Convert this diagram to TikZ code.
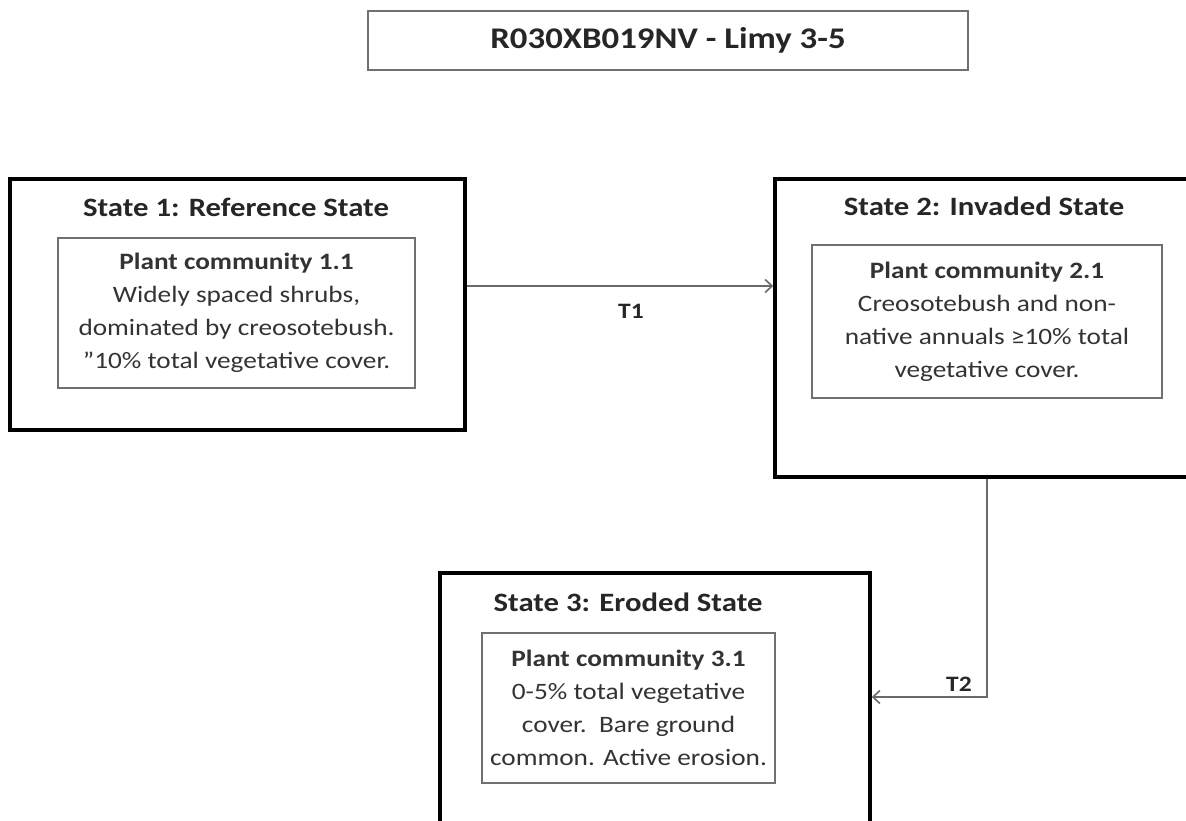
\documentclass[tikz,border=0pt]{standalone}
\usepackage{fontspec}
\setmainfont{Carlito}[FakeStretch=1.16]
\usetikzlibrary{arrows.meta}
\definecolor{txt}{HTML}{333333}
\definecolor{inb}{HTML}{707070}
\definecolor{conncol}{HTML}{6A6A6A}
\tikzset{
  statebox/.style={draw=black, line width=3.5pt, fill=white, inner sep=0pt},
  innerbox/.style={draw=inb, line width=2pt, fill=white, inner sep=0pt, align=center, text=txt,
     font=\fontsize{23.5}{33}\selectfont},
  titlebox/.style={draw=inb, line width=2pt, inner sep=0pt, font=\fontsize{30}{36}\selectfont\bfseries, text=black!85},
  statetitle/.style={font=\fontsize{26.5}{32}\selectfont\bfseries, text=black!85, inner sep=0pt},
  conn/.style={draw=conncol, line width=2pt, -{Straight Barb[length=7pt,width=13pt,line width=1.6pt]}},
  tlabel/.style={font=\fontsize{22}{26}\selectfont\bfseries, text=black!85, inner sep=0pt}
}
\begin{document}
\begin{tikzpicture}[x=1pt,y=-1pt]
\useasboundingbox (0,0) rectangle (1186,821);
\fill[white] (0,0) rectangle (1186,821);
\clip (0,0) rectangle (1186,821);
% title
\node[titlebox, minimum width=600pt, minimum height=59pt] (title) at (668,40.5) {R030XB019NV - Limy 3-5};
% state boxes
\node[statebox, minimum width=455pt, minimum height=251pt] (s1) at (237.5,304.5) {};
\node[statebox, minimum width=420pt, minimum height=298pt] (s2) at (985,328) {};
\node[statebox, minimum width=430pt, minimum height=260pt] (s3) at (655,703) {};
% state titles
\node[statetitle] (s1t) at (236,207) {State 1: Reference State};
\node[statetitle] (s2t) at (984,206) {State 2: Invaded State};
\node[statetitle] (s3t) at (628,602) {State 3: Eroded State};
% inner boxes
\node[innerbox, minimum width=357pt, minimum height=150pt] (c1) at (236.5,313) {\textbf{Plant community 1.1}\\Widely spaced shrubs,\\dominated by creosotebush.\\”10\% total vegetative cover.};
\node[innerbox, minimum width=350pt, minimum height=153pt] (c2) at (987,321.5) {\textbf{Plant community 2.1}\\Creosotebush and non-\\native annuals ≥10\% total\\vegetative cover.};
\node[innerbox, minimum width=293pt, minimum height=150pt] (c3) at (628.5,708) {\textbf{Plant community 3.1}\\0-5\% total vegetative\\cover.\ \ Bare ground\\common. Active erosion.};
% connectors
\coordinate (t2x) at (987,0);
\coordinate (t2y) at (0,697);
\draw[conn] ([yshift=18.5pt]s1.east) -- ([yshift=18.5pt]s1.east -| s2.west);
\draw[conn] (s2.south -| t2x) |- (s3.east |- t2y);
\node[tlabel] (t1) at (631,311) {T1};
\node[tlabel] (t2) at (959,684) {T2};
\end{tikzpicture}
\end{document}
